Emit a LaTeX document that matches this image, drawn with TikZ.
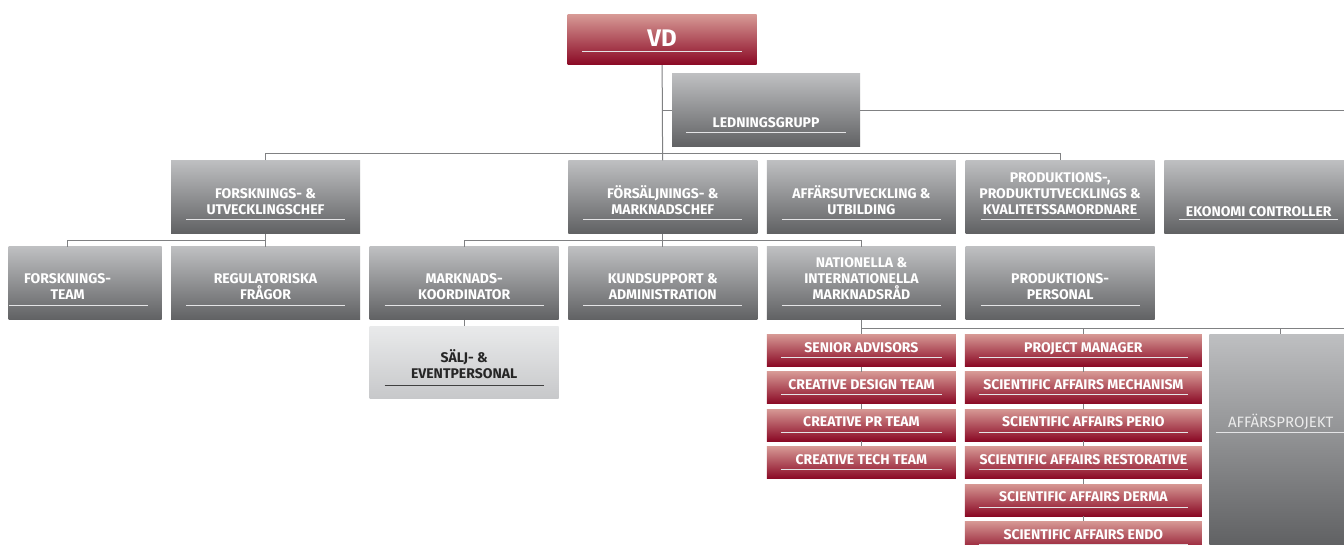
\documentclass[tikz,border=0pt]{standalone}
\usepackage{fontspec}
\setmainfont{Fira Sans}
\usetikzlibrary{positioning, calc}

\definecolor{gtop}{RGB}{190,191,193}
\definecolor{gbot}{RGB}{96,97,99}
\definecolor{rtop}{RGB}{214,152,148}
\definecolor{rbot}{RGB}{138,8,36}
\definecolor{ltop}{RGB}{233,234,235}
\definecolor{lbot}{RGB}{199,200,202}
\definecolor{connc}{RGB}{128,129,131}
\definecolor{ulc}{RGB}{228,228,230}

\begin{document}
\begin{tikzpicture}[
  x=1pt, y=-1pt,
  font=\fontsize{14}{15.7}\selectfont\bfseries,
  node distance=9.25pt and 9.25pt,
  uline/.style={draw=ulc, line width=1pt},
  ul/.style n args={3}{path picture={
      \draw[uline] ([xshift=#1, yshift=#3]path picture bounding box.south west)
        -- ([xshift=-#2, yshift=#3]path picture bounding box.south east);}},
  box/.style={inner sep=0pt, minimum width=189pt, minimum height=73pt},
  gbox/.style={box, top color=gtop, bottom color=gbot, ul={15pt}{15pt}{14.5pt}},
  rbox/.style={box, minimum height=32pt, top color=rtop, bottom color=rbot,
               ul={14pt}{14pt}{9pt}},
  lbox/.style={box, minimum height=72pt, top color=ltop, bottom color=lbot,
               ul={15pt}{15pt}{13pt}, uline/.style={draw=black!75, line width=1.2pt}},
  lbl/.style={inner sep=0pt, align=center, text=white},
  dlbl/.style={lbl, text=black!85},
  conn/.style={draw=connc, line width=1pt},
]

\useasboundingbox[fill=white] (0,0) rectangle (1344,545);
\coordinate (redge) at (1352,0);

% ------------------- top -------------------
\node[rbox, minimum height=50pt, ul={14.5pt}{14.5pt}{13.3pt}] (vd) at (662,40) {};
\node[lbl, font=\fontsize{24}{28}\selectfont\bfseries, above=18.3pt of vd.south] (vd-t) {VD};

\node[gbox, minimum width=188pt, ul={14pt}{14pt}{14pt}] (lg) at (766,110.5) {};
\node[lbl, above=19pt of lg.south] (lg-t) {LEDNINGSGRUPP};

% ------------------- third row -------------------
\node[gbox] (reg) at (265.5,283.5) {};
\node[gbox, minimum width=153pt, left=9pt of reg, ul={0pt}{14pt}{14.5pt}] (ft) {};
\node[gbox, right=of reg] (mk) {};
\node[gbox, right=of mk] (ks) {};
\node[gbox, right=of ks] (nat) {};
\node[gbox, right=of nat] (pp) {};

\node[lbl, above=20.5pt of ft.south, xshift=-17.5pt] (ft-t) {FORSKNINGS-\\TEAM};
\node[lbl, above=20.5pt of reg.south] (reg-t) {REGULATORISKA\\FRÅGOR};
\node[lbl, above=20.5pt of mk.south] (mk-t) {MARKNADS-\\KOORDINATOR};
\node[lbl, above=20.5pt of ks.south] (ks-t) {KUNDSUPPORT \&\\ADMINISTRATION};
\node[lbl, above=20.5pt of nat.south] (nat-t) {NATIONELLA \&\\INTERNATIONELLA\\MARKNADSRÅD};
\node[lbl, above=20.5pt of pp.south] (pp-t) {PRODUKTIONS-\\PERSONAL};

% ------------------- second row -------------------
\node[gbox, above=13pt of reg] (rd) {};
\node[gbox, above=13pt of ks] (sales) {};
\node[gbox, above=13pt of nat] (aff) {};
\node[gbox, above=13pt of pp] (prod) {};
\node[gbox, right=of prod] (eko) {};

\node[lbl, above=19pt of rd.south] (rd-t) {FORSKNINGS- \&\\UTVECKLINGSCHEF};
\node[lbl, above=19pt of sales.south] (sales-t) {FÖRSÄLJNINGS- \&\\MARKNADSCHEF};
\node[lbl, above=19pt of aff.south] (aff-t) {AFFÄRSUTVECKLING \&\\UTBILDING};
\node[lbl, above=19pt of prod.south] (prod-t) {PRODUKTIONS-,\\PRODUKTUTVECKLINGS \&\\KVALITETSSAMORDNARE};
\node[lbl, above=17pt of eko.south] (eko-t) {EKONOMI CONTROLLER};

% sales staff under the coordinator
\node[lbox, below=6pt of mk] (salj) {};
\node[dlbl, above=20pt of salj.south] (salj-t) {SÄLJ- \&\\EVENTPERSONAL};

% ------------------- red teams -------------------
\node[rbox, below=14pt of nat] (sen) {};
\node[rbox, below=5pt of sen] (cdt) {};
\node[rbox, below=5pt of cdt] (cpr) {};
\node[rbox, below=5pt of cpr] (ctt) {};

\node[rbox, minimum width=237pt, right=8.5pt of sen] (pm) {};
\node[rbox, minimum width=237pt, below=5pt of pm] (sam) {};
\node[rbox, minimum width=237pt, below=5pt of sam] (sap) {};
\node[rbox, minimum width=237pt, below=5pt of sap] (sar) {};
\node[rbox, minimum width=237pt, below=5pt of sar] (sad) {};
\node[rbox, minimum width=237pt, below=5pt of sad] (sae) {};

\node[lbl, above=14pt of sen.south] (sen-t) {SENIOR ADVISORS};
\node[lbl, above=14pt of cdt.south] (cdt-t) {CREATIVE DESIGN TEAM};
\node[lbl, above=14pt of cpr.south] (cpr-t) {CREATIVE PR TEAM};
\node[lbl, above=14pt of ctt.south] (ctt-t) {CREATIVE TECH TEAM};
\node[lbl, text depth=0pt, above=14pt of pm.south] (pm-t) {PROJECT MANAGER};
\node[lbl, above=14pt of sam.south] (sam-t) {SCIENTIFIC AFFAIRS MECHANISM};
\node[lbl, above=14pt of sap.south] (sap-t) {SCIENTIFIC AFFAIRS PERIO};
\node[lbl, above=14pt of sar.south] (sar-t) {SCIENTIFIC AFFAIRS RESTORATIVE};
\node[lbl, above=14pt of sad.south] (sad-t) {SCIENTIFIC AFFAIRS DERMA};
\node[lbl, above=14pt of sae.south] (sae-t) {SCIENTIFIC AFFAIRS ENDO};

% business projects
\node[gbox, minimum width=143pt, minimum height=211pt,
      right=7pt of pm.north east, anchor=north west, ul={7pt}{7pt}{113pt}] (ap) {};
\node[lbl, text=white!92!black, font=\fontsize{15}{17}\selectfont, text depth=0pt,
      above=118pt of ap.south] (ap-t) {AFFÄRSPROJEKT};

% ------------------- connectors -------------------
\draw[conn] (vd) -- (sales);
\draw[conn] (vd.south |- lg.west) -- (lg.west);
\draw[conn] (lg.east) -- (lg.east -| redge);
\draw[conn] (rd.north) -- ++(0,-7) -| (prod.north);

\draw[conn] (rd) -- (reg);
\draw[conn] (reg.north) -- ++(0,-6) -| (ft-t.north |- ft.north);
\draw[conn] (sales) -- (ks);
\draw[conn] (mk.north) -- ++(0,-6) -| (nat.north);
\draw[conn] (mk) -- (salj);

\draw[conn] (nat) -- (sen);
\draw[conn] (nat.south) -- ++(0,8) coordinate (nbus) -| (ap.north);
\draw[conn] (nbus) -| (pm.north);
\draw[conn] (nbus -| ap.north) -- (nbus -| redge);

\draw[conn] (sen) -- (cdt);
\draw[conn] (cdt) -- (cpr);
\draw[conn] (cpr) -- (ctt);
\draw[conn] (pm) -- (sam);
\draw[conn] (sam) -- (sap);
\draw[conn] (sap) -- (sar);
\draw[conn] (sar) -- (sad);
\draw[conn] (sad) -- (sae);

\end{tikzpicture}
\end{document}
